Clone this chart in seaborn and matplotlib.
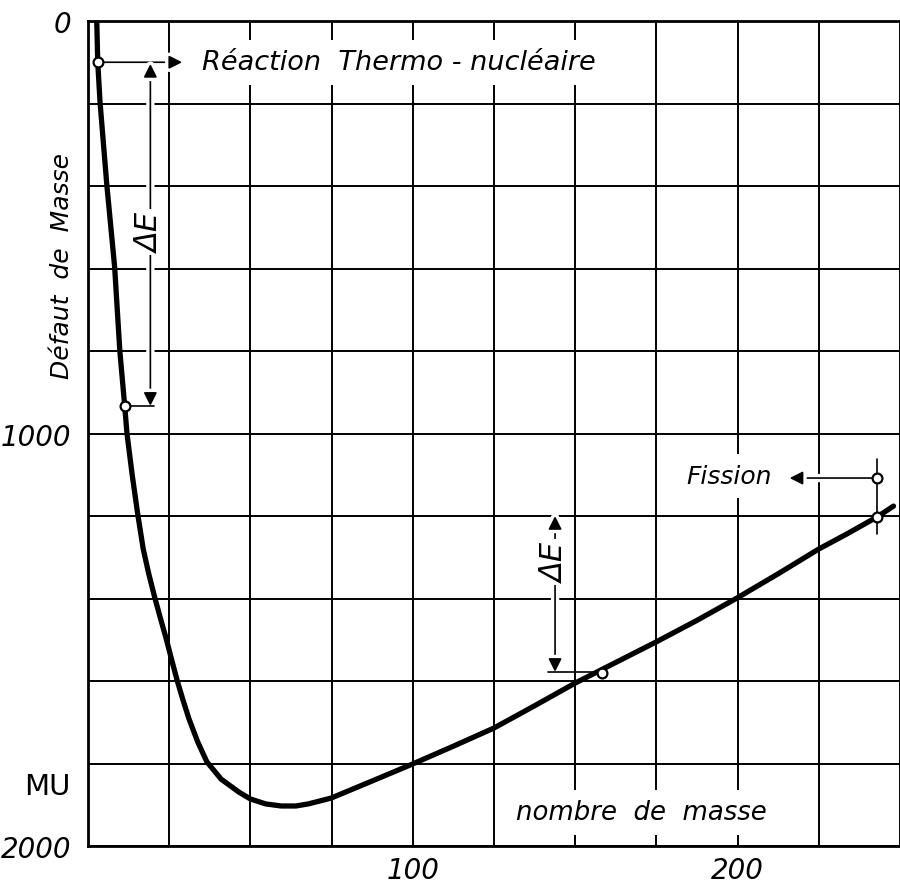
import numpy as np
import pandas as pd
import seaborn as sns
import matplotlib.pyplot as plt
from matplotlib import patheffects as pe


# mass defect curve (mass number vs mass defect in MU)
mass_number = [2.7, 3.0, 3.7, 5.8, 8.2, 9.8, 11.3, 12.0, 13.6, 15.3, 17.0, 18.7,
               20.5, 22.3, 24.1, 25.8, 27.5, 29.2, 31.1, 33.8, 36.6, 41.0, 46.4,
               50.0, 54.7, 59.5, 64.0, 67.8, 74.8, 87.6, 100.0, 112.5, 125.0,
               137.5, 150.0, 162.5, 175.0, 187.5, 200.0, 212.5, 225.0, 234.0,
               243.0, 248.0]
mass_defect = [0, 100, 196, 398, 596, 800, 933, 1000, 1100, 1195, 1280, 1340,
               1396, 1448, 1498, 1550, 1600, 1645, 1692, 1748, 1796, 1838, 1869,
               1886, 1898, 1903, 1903, 1898, 1884, 1842, 1801, 1758, 1714,
               1660, 1605, 1555, 1505, 1453, 1398, 1340, 1280, 1242,
               1202, 1176]

# marked points on / near the curve
marked_x = [3.0, 11.3, 158.3, 243.0, 243.0]
marked_y = [100, 933, 1580, 1202, 1108]

x_labels = {100: "100", 200: "200"}
y_labels = {0: "0", 1000: "1000", 2000: "2000"}

sns.set_style("white")
plt.rcParams['font.family'] = ['DejaVu Sans']
plt.rcParams['font.style'] = 'italic'
plt.rcParams['text.color'] = 'black'
plt.rcParams['xtick.color'] = 'black'
plt.rcParams['ytick.color'] = 'black'

fig = plt.figure(figsize=(9, 8.87), dpi=100)
ax = fig.add_axes([88 / 900, 40 / 887, 812 / 900, 825 / 887])

df = pd.DataFrame({'A': mass_number, 'dm': mass_defect})
sns.lineplot(data=df, x='A', y='dm', sort=False, color='black', linewidth=3.8,
             ax=ax, zorder=5)

pts = pd.DataFrame({'A': marked_x, 'dm': marked_y})
sns.scatterplot(data=pts, x='A', y='dm', s=50, facecolor='white',
                edgecolor='black', linewidth=1.6, ax=ax, zorder=6)

ax.set_xlim(0, 248)
ax.set_ylim(2000, 0)

xt = np.arange(0, 251, 25)
yt = np.arange(0, 2001, 200)
ax.set_xticks(xt)
ax.set_xticklabels([x_labels.get(int(v), "") for v in xt])
ax.set_yticks(yt)
ax.set_yticklabels([y_labels.get(int(v), "") for v in yt])
ax.tick_params(length=0)
ax.tick_params(axis='y', pad=12, labelsize=20)
ax.tick_params(axis='x', pad=7, labelsize=20)
ax.grid(True, color='black', linewidth=1.4)
ax.set_xlabel("")
ax.set_ylabel("")

for side in ['left', 'bottom', 'top']:
    ax.spines[side].set_color('black')
    ax.spines[side].set_linewidth(2.0)
ax.spines['right'].set_visible(False)

halo = [pe.Stroke(linewidth=6, foreground='white'), pe.Normal()]
arrow_kw = dict(color='black', lw=1.2, shrinkA=0, shrinkB=0,
                mutation_scale=20, path_effects=halo)

# thermonuclear reaction
ax.annotate("", xy=(29, 100), xytext=(3.0, 100),
            arrowprops=dict(arrowstyle='-|>', **arrow_kw), zorder=3)
ax.annotate("", xy=(19.2, 104), xytext=(19.2, 933),
            arrowprops=dict(arrowstyle='<|-|>', **arrow_kw), zorder=3)
ax.plot([11.3, 20.2], [933, 933], color='black', lw=1.2, zorder=3)

# fission
ax.plot([243, 243], [1062, 1244], color='black', lw=1.2, zorder=3)
ax.annotate("", xy=(216, 1108), xytext=(243, 1108),
            arrowprops=dict(arrowstyle='-|>', **arrow_kw), zorder=3)
ax.annotate("", xy=(143.8, 1200), xytext=(143.8, 1578),
            arrowprops=dict(arrowstyle='<|-|>', **arrow_kw), zorder=3)
ax.plot([141.7, 158.3], [1578, 1578], color='black', lw=1.2, zorder=3)

box = dict(facecolor='white', edgecolor='none', pad=7)
ax.text(35, 100, "Réaction  Thermo - nucléaire", fontsize=19.5, ha='left',
        va='center', bbox=box, zorder=4)
ax.text(19.2, 512, "ΔE", fontsize=22, rotation=90, ha='center', va='center',
        bbox=dict(facecolor='white', edgecolor='none', pad=2), zorder=4)
ax.text(143.8, 1311, "ΔE", fontsize=22, rotation=90, ha='center', va='center',
        bbox=dict(facecolor='white', edgecolor='none', pad=2), zorder=4)
ax.text(197.5, 1103, "Fission", fontsize=18, ha='center', va='center',
        bbox=box, zorder=4)
ax.text(170.5, 1918, "nombre  de  masse", fontsize=18.7, ha='center', va='center',
        bbox=box, zorder=4)

ax.text(-0.032, 592, "Défaut  de  Masse", fontsize=18, rotation=90,
        ha='center', va='center', transform=ax.get_yaxis_transform())
ax.text(-0.022, 1855, "MU", fontsize=21, style='normal', ha='right',
        va='center', transform=ax.get_yaxis_transform())

plt.savefig("out.png", dpi=100, facecolor='white')
